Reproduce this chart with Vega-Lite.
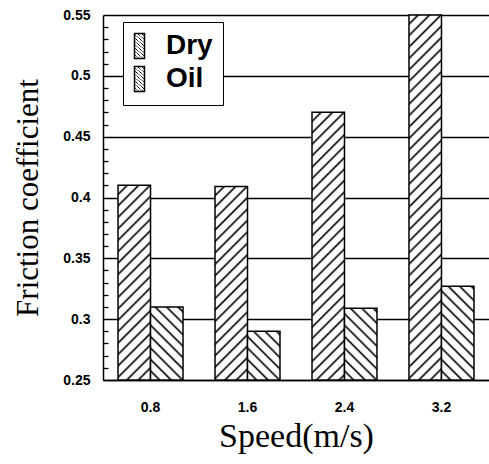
{
  "$schema": "https://vega.github.io/schema/vega-lite/v6.json",
  "width": 386,
  "height": 365,
  "autosize": {"type": "none"},
  "padding": {"left": 103, "top": 15, "right": 0, "bottom": 84},
  "background": "white",
  "params": [
    {"name": "hatch", "value": [
      {"offset":0,"color":"#fff"},
      {"offset":0.0171,"color":"#fff"},{"offset":0.0229,"color":"#000"},{"offset":0.0286,"color":"#fff"},
      {"offset":0.0457,"color":"#fff"},{"offset":0.0514,"color":"#000"},{"offset":0.0571,"color":"#fff"},
      {"offset":0.0743,"color":"#fff"},{"offset":0.08,"color":"#000"},{"offset":0.0857,"color":"#fff"},
      {"offset":0.1029,"color":"#fff"},{"offset":0.1086,"color":"#000"},{"offset":0.1143,"color":"#fff"},
      {"offset":0.1314,"color":"#fff"},{"offset":0.1371,"color":"#000"},{"offset":0.1429,"color":"#fff"},
      {"offset":0.16,"color":"#fff"},{"offset":0.1657,"color":"#000"},{"offset":0.1714,"color":"#fff"},
      {"offset":0.1886,"color":"#fff"},{"offset":0.1943,"color":"#000"},{"offset":0.2,"color":"#fff"},
      {"offset":0.2171,"color":"#fff"},{"offset":0.2229,"color":"#000"},{"offset":0.2286,"color":"#fff"},
      {"offset":0.2457,"color":"#fff"},{"offset":0.2514,"color":"#000"},{"offset":0.2571,"color":"#fff"},
      {"offset":0.2743,"color":"#fff"},{"offset":0.28,"color":"#000"},{"offset":0.2857,"color":"#fff"},
      {"offset":0.3029,"color":"#fff"},{"offset":0.3086,"color":"#000"},{"offset":0.3143,"color":"#fff"},
      {"offset":0.3314,"color":"#fff"},{"offset":0.3371,"color":"#000"},{"offset":0.3429,"color":"#fff"},
      {"offset":0.36,"color":"#fff"},{"offset":0.3657,"color":"#000"},{"offset":0.3714,"color":"#fff"},
      {"offset":0.3886,"color":"#fff"},{"offset":0.3943,"color":"#000"},{"offset":0.4,"color":"#fff"},
      {"offset":0.4171,"color":"#fff"},{"offset":0.4229,"color":"#000"},{"offset":0.4286,"color":"#fff"},
      {"offset":0.4457,"color":"#fff"},{"offset":0.4514,"color":"#000"},{"offset":0.4571,"color":"#fff"},
      {"offset":0.4743,"color":"#fff"},{"offset":0.48,"color":"#000"},{"offset":0.4857,"color":"#fff"},
      {"offset":0.5029,"color":"#fff"},{"offset":0.5086,"color":"#000"},{"offset":0.5143,"color":"#fff"},
      {"offset":0.5314,"color":"#fff"},{"offset":0.5371,"color":"#000"},{"offset":0.5429,"color":"#fff"},
      {"offset":0.56,"color":"#fff"},{"offset":0.5657,"color":"#000"},{"offset":0.5714,"color":"#fff"},
      {"offset":0.5886,"color":"#fff"},{"offset":0.5943,"color":"#000"},{"offset":0.6,"color":"#fff"},
      {"offset":0.6171,"color":"#fff"},{"offset":0.6229,"color":"#000"},{"offset":0.6286,"color":"#fff"},
      {"offset":0.6457,"color":"#fff"},{"offset":0.6514,"color":"#000"},{"offset":0.6571,"color":"#fff"},
      {"offset":0.6743,"color":"#fff"},{"offset":0.68,"color":"#000"},{"offset":0.6857,"color":"#fff"},
      {"offset":0.7029,"color":"#fff"},{"offset":0.7086,"color":"#000"},{"offset":0.7143,"color":"#fff"},
      {"offset":0.7314,"color":"#fff"},{"offset":0.7371,"color":"#000"},{"offset":0.7429,"color":"#fff"},
      {"offset":0.76,"color":"#fff"},{"offset":0.7657,"color":"#000"},{"offset":0.7714,"color":"#fff"},
      {"offset":0.7886,"color":"#fff"},{"offset":0.7943,"color":"#000"},{"offset":0.8,"color":"#fff"},
      {"offset":0.8171,"color":"#fff"},{"offset":0.8229,"color":"#000"},{"offset":0.8286,"color":"#fff"},
      {"offset":0.8457,"color":"#fff"},{"offset":0.8514,"color":"#000"},{"offset":0.8571,"color":"#fff"},
      {"offset":0.8743,"color":"#fff"},{"offset":0.88,"color":"#000"},{"offset":0.8857,"color":"#fff"},
      {"offset":0.9029,"color":"#fff"},{"offset":0.9086,"color":"#000"},{"offset":0.9143,"color":"#fff"},
      {"offset":0.9314,"color":"#fff"},{"offset":0.9371,"color":"#000"},{"offset":0.9429,"color":"#fff"},
      {"offset":0.96,"color":"#fff"},{"offset":0.9657,"color":"#000"},{"offset":0.9714,"color":"#fff"},
      {"offset":0.9886,"color":"#fff"},{"offset":0.9943,"color":"#000"},{"offset":1,"color":"#fff"}
    ]}
  ],
  "data": {
    "values": [
      {"speed": "0.8", "type": "Dry", "cof": 0.41},
      {"speed": "0.8", "type": "Oil", "cof": 0.31},
      {"speed": "1.6", "type": "Dry", "cof": 0.409},
      {"speed": "1.6", "type": "Oil", "cof": 0.29},
      {"speed": "2.4", "type": "Dry", "cof": 0.47},
      {"speed": "2.4", "type": "Oil", "cof": 0.309},
      {"speed": "3.2", "type": "Dry", "cof": 0.55},
      {"speed": "3.2", "type": "Oil", "cof": 0.327}
    ]
  },
  "mark": {"type": "bar", "strokeWidth": 1.5, "fillOpacity": 1, "strokeOpacity": 1},
  "encoding": {
    "x": {
      "field": "speed", "type": "nominal",
      "scale": {"paddingInner": 0.33, "paddingOuter": 0.155},
      "axis": {
        "title": "Speed(m/s)", "labelAngle": 0, "ticks": false, "tickSize": 0,
        "domainColor": "#000", "domainWidth": 1.5, "grid": false,
        "labelFont": "Liberation Sans", "labelFontSize": 14, "labelFontWeight": "bold", "labelColor": "#000",
        "labelPadding": 20,
        "titleFont": "Liberation Serif", "titleFontSize": 34, "titleFontWeight": "normal", "titleColor": "#000",
        "titlePadding": 5
      }
    },
    "xOffset": {"field": "type", "type": "nominal", "scale": {"paddingInner": 0, "paddingOuter": 0}},
    "y": {
      "field": "cof", "type": "quantitative",
      "scale": {"domain": [0.25, 0.55], "nice": false, "zero": false},
      "axis": {
        "title": "Friction coefficient",
        "values": [0.25,0.26,0.27,0.28,0.29,0.3,0.31,0.32,0.33,0.34,0.35,0.36,0.37,0.38,0.39,0.4,0.41,0.42,0.43,0.44,0.45,0.46,0.47,0.48,0.49,0.5,0.51,0.52,0.53,0.54,0.55],
        "ticks": false, "tickSize": 0,
        "domainColor": "#000", "domainWidth": 1.5,
        "grid": true, "gridColor": "#000", "gridWidth": 1.3, "gridOpacity": 1,
        "gridDash": {"condition": {"test": "round(datum.value*100) % 5 === 0", "value": []}, "value": [5, 1000]},
        "labelExpr": "round(datum.value*100) % 5 === 0 ? format(datum.value, '.2~f') : ''",
        "labelOverlap": false, "labelFlush": false,
        "labelFont": "Liberation Sans", "labelFontSize": 14, "labelFontWeight": "bold", "labelColor": "#000",
        "labelPadding": 13,
        "titleFont": "Liberation Serif", "titleFontSize": 31, "titleFontWeight": "normal", "titleColor": "#000",
        "titlePadding": 18
      }
    },
    "y2": {"datum": 0.25},
    "stroke": {
      "field": "type", "type": "nominal",
      "scale": {"range": ["#000", "#000"]},
      "legend": {
        "title": null, "orient": "none", "legendX": 20, "legendY": 7, "direction": "vertical",
        "fillColor": "#fff", "strokeColor": "#000", "padding": 10,
        "symbolType": "M-1,-1H-0.2V1H-1Z", "symbolSize": 625, "symbolStrokeWidth": 1.5, "symbolStrokeColor": "#000",
        "labelFont": "Liberation Sans", "labelFontSize": 28, "labelFontWeight": "bold", "labelColor": "#000",
        "labelOffset": 5, "rowPadding": 1,
        "encode": {
          "symbols": {
            "update": {
              "fill": {"signal": "datum.value === 'Dry' ? {gradient: 'linear', x1: 0, y1: 0, x2: 2.8966, y2: 7.2414, stops: hatch} : {gradient: 'linear', x1: 0, y1: 1, x2: 2.8966, y2: -6.2414, stops: hatch}"},
              "fillOpacity": {"value": 1}
            }
          }
        }
      }
    },
    "fill": {
      "value": {
        "expr": "datum.type === 'Dry' ? {gradient: 'linear', x1: 0, y1: 0, x2: 400*(bandwidth('x')/2)/(pow(bandwidth('x')/2,2)+pow(scale('y',0.25)-scale('y',datum.cof),2)), y2: 400*(scale('y',0.25)-scale('y',datum.cof))/(pow(bandwidth('x')/2,2)+pow(scale('y',0.25)-scale('y',datum.cof),2)), stops: hatch} : {gradient: 'linear', x1: 0, y1: 1, x2: 400*(bandwidth('x')/2)/(pow(bandwidth('x')/2,2)+pow(scale('y',0.25)-scale('y',datum.cof),2)), y2: 1-400*(scale('y',0.25)-scale('y',datum.cof))/(pow(bandwidth('x')/2,2)+pow(scale('y',0.25)-scale('y',datum.cof),2)), stops: hatch}"
      }
    }
  },
  "config": {"view": {"stroke": null}}
}
